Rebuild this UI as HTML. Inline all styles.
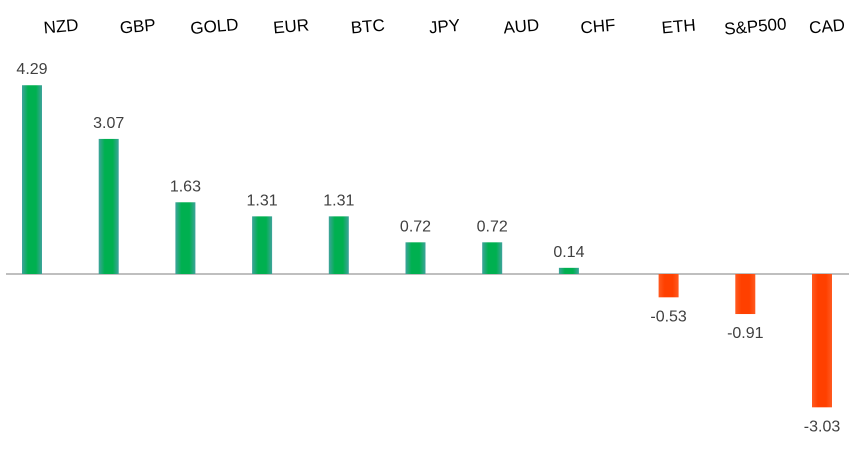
<!DOCTYPE html>
<html><head><meta charset="utf-8"><style>
body{margin:0;background:#fff;}
svg{display:block;font-family:"Liberation Sans",Calibri,sans-serif;}
</style></head><body>
<svg id="chart" width="865" height="463">
<defs>
<linearGradient id="gpos" x1="0" x2="1" y1="0" y2="0">
<stop offset="0" stop-color="#3fa39c"/><stop offset="0.3" stop-color="#00b050"/><stop offset="0.7" stop-color="#00b050"/><stop offset="1" stop-color="#3fa39c"/></linearGradient>
<linearGradient id="gneg" x1="0" x2="1" y1="0" y2="0">
<stop offset="0" stop-color="#ff5a20"/><stop offset="0.3" stop-color="#ff4000"/><stop offset="0.7" stop-color="#ff4000"/><stop offset="1" stop-color="#ff5a20"/></linearGradient>
</defs>
<line x1="6" x2="849" y1="274" y2="274" stroke="#bfbfbf" stroke-width="2"/>
</svg>
<script>
const categories=["NZD","GBP","GOLD","EUR","BTC","JPY","AUD","CHF","ETH","S&P500","CAD"];
const values=[4.29,3.07,1.63,1.31,1.31,0.72,0.72,0.14,-0.53,-0.91,-3.03];
const labels=["4.29","3.07","1.63","1.31","1.31","0.72","0.72","0.14","-0.53","-0.91","-3.03"];
const svg=document.getElementById('chart');
const NS='http://www.w3.org/2000/svg';
const y0=274, ppu=44;
function yScale(v){return y0-v*ppu;}
function xScale(i){return 32+i*76.7+(i>=8?23:0);}
for(let i=0;i<categories.length;i++){
  const v=values[i],cx=xScale(i);
  const r=document.createElementNS(NS,'rect');
  
  
  const top=Math.min(yScale(v),y0),h=Math.abs(yScale(v)-y0);
  r.setAttribute('x',cx-10);r.setAttribute('y',top);r.setAttribute('width',20);r.setAttribute('height',h);
  r.setAttribute('fill',v>=0?'url(#gpos)':'url(#gneg)');
  svg.appendChild(r);
  const t=document.createElementNS(NS,'text');
  
  
  t.setAttribute('x',cx);t.setAttribute('y',v>=0?top-11:y0+h+24);
  t.setAttribute('text-anchor','middle');t.setAttribute('font-size','16');t.setAttribute('fill','#404040');
  t.textContent=labels[i];svg.appendChild(t);
  const c=document.createElementNS(NS,'text');
  
  
  const lx=cx+(i===10?5:(i>=8?10:29));
  c.setAttribute('x',lx);c.setAttribute('y',32);
  c.setAttribute('text-anchor','middle');c.setAttribute('font-size','17');c.setAttribute('fill','#000');
  c.setAttribute('transform','rotate(-5 '+lx+' 26)');
  c.textContent=categories[i];svg.appendChild(c);
}
</script>
</body></html>
